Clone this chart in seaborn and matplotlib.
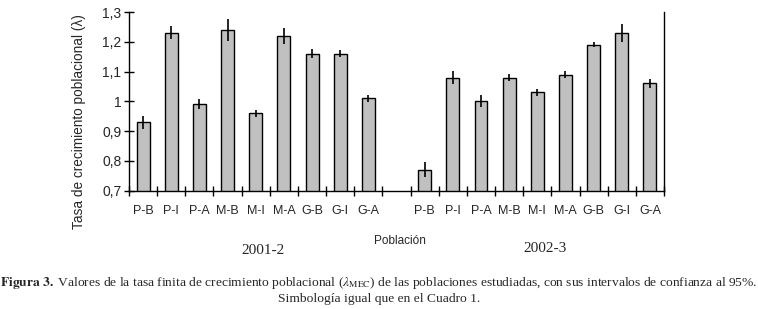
import matplotlib
matplotlib.use("Agg")
import matplotlib.pyplot as plt
import numpy as np
import pandas as pd
import seaborn as sns

# data
poblaciones = ["P-B", "P-I", "P-A", "M-B", "M-I", "M-A", "G-B", "G-I", "G-A"]
lambda_2001 = [0.93, 1.23, 0.99, 1.24, 0.96, 1.22, 1.16, 1.16, 1.01]
err_2001 = [0.022, 0.022, 0.017, 0.037, 0.011, 0.026, 0.015, 0.011, 0.011]
lambda_2002 = [0.77, 1.08, 1.00, 1.08, 1.03, 1.09, 1.19, 1.23, 1.06]
err_2002 = [0.025, 0.022, 0.020, 0.012, 0.011, 0.012, 0.009, 0.031, 0.015]
y_ticks = [0.7, 0.8, 0.9, 1.0, 1.1, 1.2, 1.3]
y_labels = ["0,7", "0,8", "0,9", "1", "1,1", "1,2", "1,3"]

keys_a = [p + " 2001-2" for p in poblaciones]
keys_b = [p + " 2002-3" for p in poblaciones]
order = keys_a + ["gap"] + keys_b
df = pd.DataFrame({
    "clave": keys_a + keys_b,
    "lam": lambda_2001 + lambda_2002,
    "err": err_2001 + err_2002,
})

sns.set_theme(style="white")
plt.rcParams["font.family"] = ["Liberation Sans", "DejaVu Sans"]
plt.rcParams["mathtext.fontset"] = "stix"

fig = plt.figure(figsize=(7.58, 3.09), dpi=100)
ax = fig.add_axes([0.1702, 0.3828, 0.7058, 0.5783])

sns.barplot(data=df, x="clave", y="lam", order=order, color="#c0c0c0",
            edgecolor="black", linewidth=1.0, width=0.46, saturation=1,
            errorbar=None, ax=ax)
pos = [order.index(k) for k in df["clave"]]
ax.errorbar(pos, df["lam"], yerr=df["err"], fmt="none", ecolor="black",
            elinewidth=1.2, capsize=0)

ax.set_ylim(0.7, 1.3)
ax.set_xlim(-0.5, len(order) - 0.5)
ax.set_yticks(y_ticks)
ax.set_yticklabels(y_labels, fontsize=10)
ax.set_xticks([order.index(k) for k in keys_a + keys_b])
ax.set_xticklabels(poblaciones + poblaciones, fontsize=9)
ax.set_xticks(np.arange(-0.5, len(order), 1.0), minor=True)
ax.tick_params(axis="x", which="major", length=0, pad=10)
ax.tick_params(axis="x", which="minor", direction="inout", length=7, width=1, color="black", bottom=True)
ax.tick_params(axis="y", direction="inout", length=7, width=1, color="black", left=True, pad=2)
ax.set_xlabel("")
ax.set_ylabel("")

for side in ["left", "bottom", "right"]:
    ax.spines[side].set_color("black")
    ax.spines[side].set_linewidth(1.0)
ax.spines["top"].set_visible(False)

fig.text(79 / 758, 1 - 122 / 309, "Tasa de crecimiento poblacional (λ)", rotation=90,
         ha="center", va="center", fontsize=9.8)
fig.text(400 / 758, 1 - 241 / 309, "Población", ha="center", va="center", fontsize=8.5)
fig.text(263 / 758, 1 - 251 / 309, "2001-2", ha="center", va="center", fontsize=11,
         family="Liberation Serif")
fig.text(545 / 758, 1 - 248 / 309, "2002-3", ha="center", va="center", fontsize=11,
         family="Liberation Serif")

fig.text(0.5, 1 - 283 / 309,
         r"$\mathbf{Figura\ 3.}$ Valores de la tasa finita de crecimiento poblacional ($\lambda_{\mathrm{MEC}}$) "
         "de las poblaciones estudiadas, con sus intervalos de confianza al 95%.",
         ha="center", va="center", fontsize=9.7, family="Liberation Serif")
fig.text(0.5, 1 - 299 / 309, "Simbología igual que en el Cuadro 1.",
         ha="center", va="center", fontsize=9.7, family="Liberation Serif")

fig.savefig("out.png", dpi=100, facecolor="white")
